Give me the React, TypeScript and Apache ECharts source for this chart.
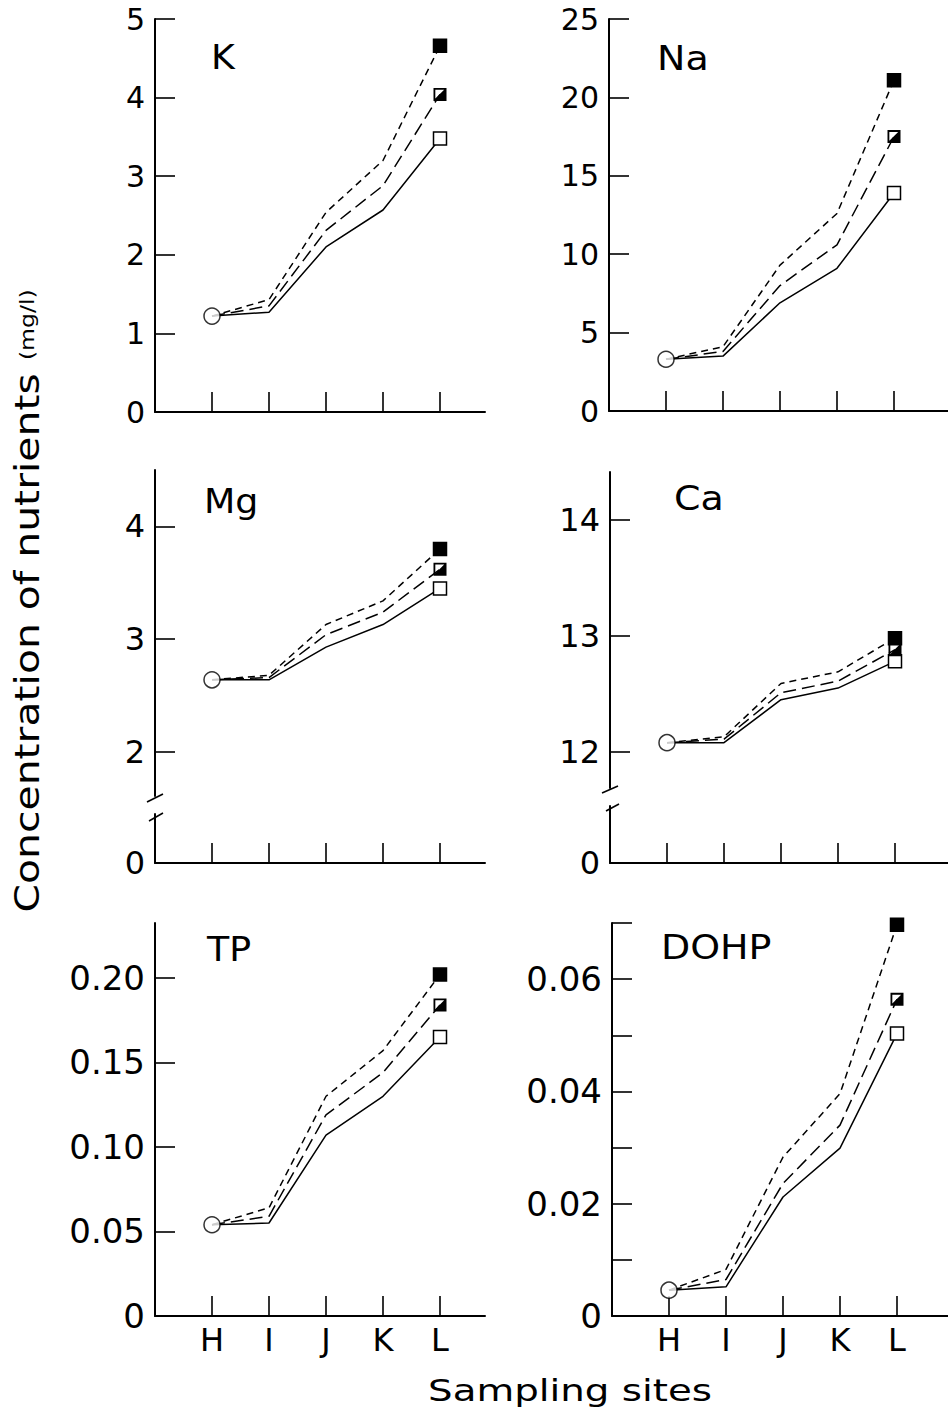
import React, { useEffect, useRef } from "react";
import * as echarts from "echarts";

// ---------- data ----------
const SITES = ["H", "I", "J", "K", "L"];

const K_SOLID = [1.22, 1.27, 2.1, 2.57, 3.48];
const K_LONG = [1.22, 1.35, 2.31, 2.88, 4.04];
const K_SHORT = [1.22, 1.43, 2.54, 3.2, 4.66];

const NA_SOLID = [3.3, 3.5, 6.9, 9.1, 13.9];
const NA_LONG = [3.3, 3.8, 8.0, 10.6, 17.5];
const NA_SHORT = [3.3, 4.1, 9.3, 12.6, 21.1];

const MG_SOLID = [2.64, 2.64, 2.93, 3.13, 3.45];
const MG_LONG = [2.64, 2.66, 3.04, 3.24, 3.62];
const MG_SHORT = [2.64, 2.68, 3.13, 3.34, 3.8];

const CA_SOLID = [12.08, 12.08, 12.45, 12.55, 12.78];
const CA_LONG = [12.08, 12.11, 12.51, 12.61, 12.88];
const CA_SHORT = [12.08, 12.13, 12.59, 12.69, 12.98];

const TP_SOLID = [0.054, 0.055, 0.107, 0.13, 0.165];
const TP_LONG = [0.054, 0.059, 0.119, 0.144, 0.184];
const TP_SHORT = [0.054, 0.064, 0.13, 0.157, 0.202];

const DOHP_SOLID = [0.0046, 0.0052, 0.0212, 0.0299, 0.0503];
const DOHP_LONG = [0.0046, 0.0065, 0.0236, 0.034, 0.0564];
const DOHP_SHORT = [0.0046, 0.0083, 0.0283, 0.0396, 0.0697];

const K_TICKS = [0, 1, 2, 3, 4, 5];
const NA_TICKS = [0, 5, 10, 15, 20, 25];
const MG_TICKS = [2, 3, 4];
const CA_TICKS = [12, 13, 14];
const TP_TICKS = [0, 0.05, 0.1, 0.15, 0.2];
const DOHP_TICKS = [0, 0.01, 0.02, 0.03, 0.04, 0.05, 0.06, 0.07];
const DOHP_LABELS = [0, 0.02, 0.04, 0.06];
const ZERO = [0];

const FONT = "DejaVu Sans";
const HALF_SQUARE = "path://M0 0 L10 0 L10 10 L0 10 Z M1.4 1.4 L1.4 8.2 L8.2 1.4 Z";
const SPACING = 57;

export default function App() {
  const ref = useRef<HTMLDivElement>(null);

  useEffect(() => {
    document.body.style.margin = "0";
    if (!ref.current) return;
    const chart = echarts.init(ref.current, undefined, { renderer: "svg" });

    const grids: any[] = [];
    const xAxes: any[] = [];
    const yAxes: any[] = [];
    const series: any[] = [];

    function addGrid(o: any) {
      const idx = grids.length;
      grids.push({ left: o.left, top: o.top, width: o.width, height: o.height, containLabel: false });
      xAxes.push({
        type: "value",
        gridIndex: idx,
        min: -1,
        max: o.width / SPACING - 1,
        show: o.xVisible,
        axisLine: { show: true, onZero: false, lineStyle: { color: "#000", width: 2 } },
        axisTick: {
          show: true,
          inside: true,
          length: 20,
          customValues: [0, 1, 2, 3, 4],
          lineStyle: { color: "#000", width: 1.6 },
        },
        axisLabel: {
          show: !!o.xLabels,
          customValues: [0, 1, 2, 3, 4],
          formatter: (v: number) => SITES[Math.round(v)] ?? "",
          fontSize: 32,
          fontFamily: FONT,
          color: "#000",
          margin: 8,
        },
        splitLine: { show: false },
      });
      yAxes.push({
        type: "value",
        gridIndex: idx,
        min: o.yMin,
        max: o.yMax,
        axisLine: { show: true, onZero: false, lineStyle: { color: "#000", width: 2 } },
        axisTick: {
          show: o.yTicks.length > 0,
          inside: true,
          length: 20,
          customValues: o.yTicks,
          lineStyle: { color: "#000", width: 1.6 },
        },
        axisLabel: {
          customValues: o.yLabels,
          formatter: o.fmt || ((v: number) => String(v)),
          fontSize: o.labelSize || 32,
          lineHeight: 26,
          fontFamily: FONT,
          color: "#000",
          margin: 10,
        },
        splitLine: { show: false },
      });
      return idx;
    }

    function addLines(idx: number, solid: number[], long: number[], short: number[]) {
      const last = solid.length - 1;
      const mk = (vals: number[], sym: string, color: string) =>
        vals.map((v, i) =>
          i === last
            ? {
                value: [i, v],
                symbol: sym,
                symbolSize: 13,
                itemStyle: { color, borderColor: "#000", borderWidth: sym === "rect" ? 1.5 : 0 },
              }
            : { value: [i, v], symbol: "none" }
        );
      series.push({
        type: "line",
        xAxisIndex: idx,
        yAxisIndex: idx,
        silent: true,
        symbol: "rect",
        showSymbol: true,
        lineStyle: { color: "#000", width: 1.5, type: "solid" },
        data: mk(solid, "rect", "#fff"),
        z: 3,
      });
      series.push({
        type: "line",
        xAxisIndex: idx,
        yAxisIndex: idx,
        silent: true,
        symbol: "rect",
        showSymbol: true,
        lineStyle: { color: "#000", width: 1.5, type: [13, 6] },
        data: mk(long, HALF_SQUARE, "#000"),
        z: 3,
      });
      series.push({
        type: "line",
        xAxisIndex: idx,
        yAxisIndex: idx,
        silent: true,
        symbol: "rect",
        showSymbol: true,
        lineStyle: { color: "#000", width: 1.5, type: [7, 5] },
        data: mk(short, "rect", "#000"),
        z: 3,
      });
      series.push({
        type: "scatter",
        xAxisIndex: idx,
        yAxisIndex: idx,
        silent: true,
        symbol: "circle",
        symbolSize: 16,
        itemStyle: { color: "#fff", borderColor: "#000", borderWidth: 1.5 },
        data: [[0, solid[0]]],
        z: 5,
      });
    }

    const fmt2 = (v: number) => (v === 0 ? "0" : v.toFixed(2));

    // K
    const gK = addGrid({ left: 155, top: 19, width: 330, height: 393, yMin: 0, yMax: 5, yTicks: K_TICKS, yLabels: K_TICKS, labelSize: 30, xVisible: true });
    addLines(gK, K_SOLID, K_LONG, K_SHORT);
    // Na
    const gNa = addGrid({ left: 609, top: 19, width: 339, height: 392, yMin: 0, yMax: 25, yTicks: NA_TICKS, yLabels: NA_TICKS, labelSize: 30, xVisible: true });
    addLines(gNa, NA_SOLID, NA_LONG, NA_SHORT);
    // Mg (broken axis)
    const gMg = addGrid({ left: 155, top: 470, width: 330, height: 326, yMin: 1.61, yMax: 4.5, yTicks: MG_TICKS, yLabels: MG_TICKS, xVisible: false });
    addLines(gMg, MG_SOLID, MG_LONG, MG_SHORT);
    addGrid({ left: 155, top: 814, width: 330, height: 49, yMin: 0, yMax: 1, yTicks: [], yLabels: ZERO, xVisible: true });
    // Ca (broken axis)
    const gCa = addGrid({ left: 610, top: 472, width: 338, height: 316, yMin: 11.69, yMax: 14.41, yTicks: CA_TICKS, yLabels: CA_TICKS, xVisible: false });
    addLines(gCa, CA_SOLID, CA_LONG, CA_SHORT);
    addGrid({ left: 610, top: 806, width: 338, height: 57, yMin: 0, yMax: 1, yTicks: [], yLabels: ZERO, xVisible: true });
    // TP
    const gTP = addGrid({ left: 155, top: 923, width: 330, height: 393, yMin: 0, yMax: 0.2325, yTicks: TP_TICKS, yLabels: TP_TICKS, fmt: fmt2, labelSize: 34, xVisible: true, xLabels: true });
    addLines(gTP, TP_SOLID, TP_LONG, TP_SHORT);
    // DOHP
    const gD = addGrid({ left: 612, top: 923, width: 336, height: 393, yMin: 0, yMax: 0.07, yTicks: DOHP_TICKS, yLabels: DOHP_LABELS, fmt: fmt2, labelSize: 34, xVisible: true, xLabels: true });
    addLines(gD, DOHP_SOLID, DOHP_LONG, DOHP_SHORT);

    const titleStyle = (text: string) => ({
      text,
      fontSize: 33,
      fontFamily: FONT,
      fill: "#000",
      align: "left",
      verticalAlign: "middle",
    });
    const brk = (x1: number, y1: number, x2: number, y2: number) => ({
      type: "line",
      silent: true,
      shape: { x1, y1, x2, y2 },
      style: { stroke: "#000", lineWidth: 1.6 },
    });

    chart.setOption({
      animation: false,
      backgroundColor: "#fff",
      grid: grids,
      xAxis: xAxes,
      yAxis: yAxes,
      series,
      graphic: [
        { type: "text", x: 211, y: 58, scaleX: 1.1, style: titleStyle("K") },
        { type: "text", x: 657, y: 58, scaleX: 1.15, style: titleStyle("Na") },
        { type: "text", x: 204, y: 502, scaleX: 1.1, style: titleStyle("Mg") },
        { type: "text", x: 674, y: 498, scaleX: 1.15, style: titleStyle("Ca") },
        { type: "text", x: 207, y: 950, scaleX: 1.1, style: titleStyle("TP") },
        { type: "text", x: 661, y: 947, scaleX: 1.15, style: titleStyle("DOHP") },
        brk(147, 802, 163, 794),
        brk(149, 821, 163, 813),
        brk(602, 793, 618, 786),
        brk(606, 811, 619, 804),
        {
          type: "text",
          x: 27,
          y: 601,
          rotation: Math.PI / 2,
          scaleX: 1.24,
          style: {
            text: "Concentration of nutrients {u|(mg/l)}",
            fontSize: 33,
            fontFamily: FONT,
            fill: "#000",
            align: "center",
            verticalAlign: "middle",
            rich: { u: { fontSize: 19, fontFamily: FONT, fill: "#000" } },
          },
        },
        {
          type: "text",
          x: 570,
          y: 1390,
          scaleX: 1.25,
          style: {
            text: "Sampling sites",
            fontSize: 31,
            fontFamily: FONT,
            fill: "#000",
            align: "center",
            verticalAlign: "middle",
          },
        },
      ],
    });

    return () => chart.dispose();
  }, []);

  return <div ref={ref} style={{ width: 948, height: 1412 }} />;
}
